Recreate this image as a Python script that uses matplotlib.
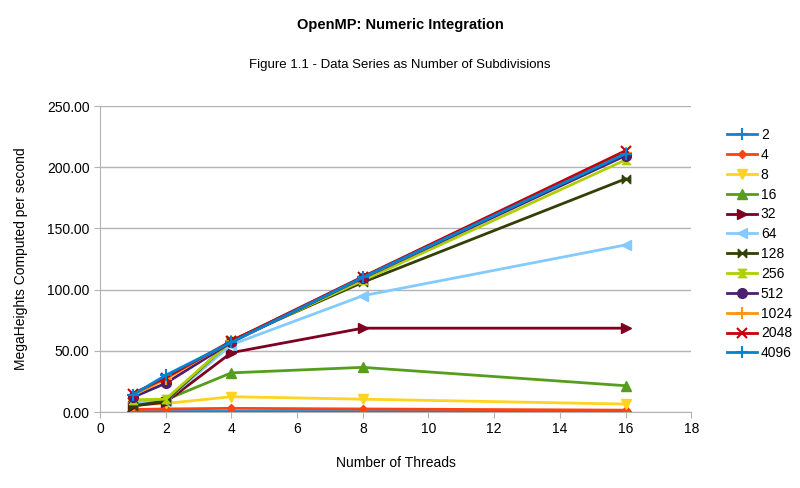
import matplotlib
matplotlib.use("Agg")
import matplotlib.pyplot as plt
from matplotlib.path import Path
import numpy as np

plt.rcParams['font.family'] = ['Liberation Sans', 'DejaVu Sans']

threads = [1, 2, 4, 8, 16]
series_names = ["2", "4", "8", "16", "32", "64", "128", "256", "512", "1024", "2048", "4096"]
s2 = [0.3, 0.4, 0.4, 0.4, 0.4]
s4 = [2.0, 2.5, 3.0, 2.5, 1.5]
s8 = [6.0, 7.0, 12.5, 10.5, 6.5]
s16 = [9.0, 10.0, 32.0, 36.5, 21.5]
s32 = [5.0, 8.0, 48.5, 68.5, 68.5]
s64 = [8.0, 9.0, 55.0, 95.0, 136.5]
s128 = [5.0, 9.0, 58.5, 106.0, 190.5]
s256 = [10.0, 10.5, 58.0, 107.5, 206.0]
s512 = [12.0, 23.5, 57.0, 109.5, 209.5]
s1024 = [13.5, 27.0, 58.0, 110.0, 212.0]
s2048 = [15.0, 28.0, 58.0, 110.5, 213.5]
s4096 = [14.0, 30.0, 57.0, 110.0, 211.0]
values = [s2, s4, s8, s16, s32, s64, s128, s256, s512, s1024, s2048, s4096]

colors = ["#1a7fcf", "#ff420e", "#ffd320", "#579d1c", "#7e0021", "#83caff",
          "#314004", "#aecf00", "#4b1f6f", "#ff950e", "#c5000b", "#0084d1"]

bowtie = Path([(-1, 1), (1, -1), (1, 1), (-1, -1), (-1, 1)],
              [Path.MOVETO, Path.LINETO, Path.LINETO, Path.LINETO, Path.CLOSEPOLY])
hourglass = Path([(-1, 1), (1, 1), (-1, -1), (1, -1), (-1, 1)],
                 [Path.MOVETO, Path.LINETO, Path.LINETO, Path.LINETO, Path.CLOSEPOLY])
markers = ['+', 'D', 'v', '^', '>', '<', bowtie, hourglass, 'o', '+', 'x', '+']
msizes = [8, 4, 7, 7, 7, 7, 6, 6, 7, 8, 7, 8]

fig = plt.figure(figsize=(8, 4.88), dpi=100)
ax = fig.add_axes([0.125, 0.1557, 0.739, 0.627])

for name, vals, c, m, ms in zip(series_names, values, colors, markers, msizes):
    mew = 1.5 if m in ('+', 'x') else 1
    ax.plot(threads, vals, color=c, marker=m, markersize=ms, linewidth=2.0,
            markeredgewidth=mew, label=name, markeredgecolor=c, markerfacecolor=c)

ax.set_xlim(0, 18)
ax.set_ylim(0, 250)
ax.set_xticks(np.arange(0, 19, 2))
ax.set_yticks(np.arange(0, 251, 50))
ax.set_yticklabels([f"{v:.2f}" for v in np.arange(0, 251, 50)])
ax.grid(axis='y', color='#b3b3b3', linewidth=1)
ax.set_axisbelow(True)
for s in ['top', 'right']:
    ax.spines[s].set_visible(False)
ax.spines['left'].set_color('#b3b3b3')
ax.spines['bottom'].set_color('#b3b3b3')
ax.tick_params(axis='both', colors='#b3b3b3', labelcolor='black', labelsize=10, length=4)

ax.set_xlabel("Number of Threads", fontsize=10, labelpad=14)
ax.set_ylabel("MegaHeights Computed per second", fontsize=10, labelpad=14)

fig.text(0.5, 0.948, "OpenMP: Numeric Integration", ha='center', va='center',
         fontsize=10.5, fontweight='bold')
fig.text(0.5, 0.867, "Figure 1.1 - Data Series as Number of Subdivisions", ha='center',
         va='center', fontsize=9.5)

leg = ax.legend(loc='upper left', bbox_to_anchor=(1.052, 0.946), frameon=False,
                fontsize=10, handlelength=2.1, labelspacing=0.42, handletextpad=0.3,
                borderaxespad=0)

fig.savefig("out.png", dpi=100)
